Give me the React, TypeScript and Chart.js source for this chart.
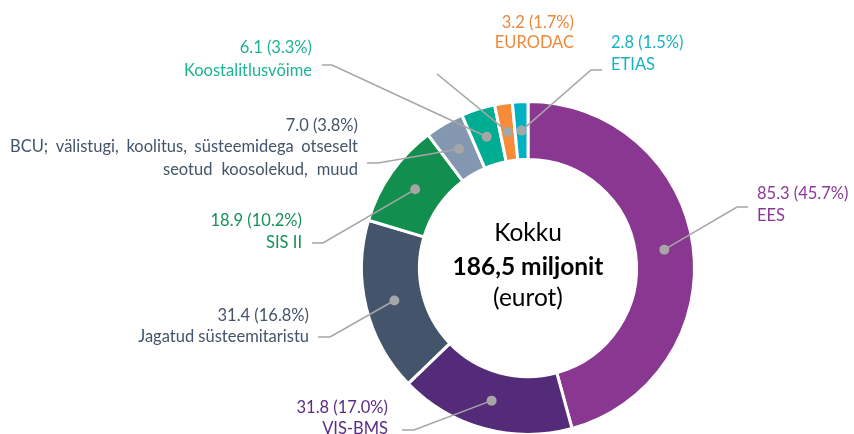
import React, { useEffect, useRef } from "react";
import { Chart, registerables } from "chart.js";

Chart.register(...registerables);

// ---- data ----
const categories = [
  "EES",
  "VIS-BMS",
  "Jagatud süsteemitaristu",
  "SIS II",
  "BCU; välistugi, koolitus, süsteemidega otseselt|seotud koosolekud, muud",
  "Koostalitlusvõime",
  "EURODAC",
  "ETIAS",
];
const values = [85.3, 31.8, 31.4, 18.9, 7.0, 6.1, 3.2, 2.8];
const percents = [45.7, 17.0, 16.8, 10.2, 3.8, 3.3, 1.7, 1.5];
const totalLines = ["Kokku", "186,5 miljonit", "(eurot)"];

// ---- styles ----
const segColors = ["#893790", "#532B78", "#44546A", "#128E4F", "#8497B0", "#00AD92", "#F68B3A", "#00B1C2"];
const labelColors = ["#8B3A96", "#5B2C84", "#44546A", "#15915A", "#44546A", "#1DB495", "#F0883A", "#17B2C4"];
const FONT = "Lato, 'Open Sans', sans-serif";

// label layout, offsets from doughnut centre: elbow, end of horizontal, text anchor
type LL = { ex: number; ey: number; hx: number | null; tx: number; align: CanvasTextAlign; ty: number[]; justify?: number[] };
const labelLayout: LL[] = [
  { ex: 209, ey: -61, hx: 220, tx: 229, align: "left", ty: [-74, -52] },
  { ex: -114, ey: 162, hx: -126, tx: -140, align: "right", ty: [140, 161] },
  { ex: -198, ey: 69, hx: -210, tx: -219, align: "right", ty: [48, 69] },
  { ex: -205, ey: -25, hx: -216, tx: -226, align: "right", ty: [-47, -25] },
  { ex: -150, ey: -105, hx: -161, tx: -170, align: "right", ty: [-142, -121, -98], justify: [0, 348, 195] },
  { ex: -196, ey: -203, hx: -206, tx: -216, align: "right", ty: [-220, -197] },
  { ex: -91, ey: -194, hx: null, tx: 46, align: "right", ty: [-245, -225] },
  { ex: 63, ey: -198, hx: 74, tx: 83, align: "left", ty: [-225, -203] },
];

const leaderPlugin = {
  id: "leaderLabels",
  afterDatasetsDraw(chart: any) {
    const ctx: CanvasRenderingContext2D = chart.ctx;
    const meta = chart.getDatasetMeta(0);
    ctx.save();
    meta.data.forEach((arc: any, i: number) => {
      const p = arc.getProps(["x", "y", "startAngle", "endAngle", "innerRadius", "outerRadius"], true);
      const mid = (p.startAngle + p.endAngle) / 2;
      const r = (p.innerRadius + p.outerRadius) / 2;
      const dx = p.x + Math.cos(mid) * r;
      const dy = p.y + Math.sin(mid) * r;
      const L = labelLayout[i];
      const cx = p.x, cy = p.y;
      ctx.strokeStyle = "#A6A6A6";
      ctx.lineWidth = 1.6;
      ctx.beginPath();
      ctx.moveTo(dx, dy);
      ctx.lineTo(cx + L.ex, cy + L.ey);
      if (L.hx !== null) ctx.lineTo(cx + L.hx, cy + L.ey);
      ctx.stroke();
      ctx.fillStyle = "#A6A6A6";
      ctx.beginPath();
      ctx.arc(dx, dy, 5, 0, Math.PI * 2);
      ctx.fill();

      // text
      const lines = [values[i].toFixed(1) + " (" + percents[i].toFixed(1) + "%)", ...categories[i].split("|")];
      ctx.fillStyle = labelColors[i];
      ctx.font = `16.5px ${FONT}`;
      ctx.textBaseline = "middle";
      lines.forEach((t, k) => {
        const x = cx + L.tx;
        const y = cy + L.ty[k];
        const jw = L.justify ? L.justify[k] : 0;
        if (jw) {
          const words = t.split(" ");
          const wsum = words.reduce((s, w) => s + ctx.measureText(w).width, 0);
          const gap = Math.max((jw - wsum) / (words.length - 1), ctx.measureText(" ").width);
          const total = wsum + gap * (words.length - 1);
          let xx = x - total;
          ctx.textAlign = "left";
          words.forEach((w) => {
            ctx.fillText(w, xx, y);
            xx += ctx.measureText(w).width + gap;
          });
        } else {
          ctx.textAlign = L.align;
          ctx.fillText(t, x, y);
        }
      });
    });

    // centre text
    const a = meta.data[0].getProps(["x", "y"], true);
    ctx.fillStyle = "#000000";
    ctx.textAlign = "center";
    ctx.textBaseline = "middle";
    ctx.font = `24.5px ${FONT}`;
    ctx.fillText(totalLines[0], a.x, a.y - 35);
    ctx.font = `bold 24.5px ${FONT}`;
    ctx.fillText(totalLines[1], a.x, a.y - 1);
    ctx.font = `24.5px ${FONT}`;
    ctx.fillText(totalLines[2], a.x, a.y + 30);
    ctx.restore();
  },
};

export default function App() {
  const ref = useRef<HTMLCanvasElement | null>(null);
  useEffect(() => {
    document.body.style.margin = "0";
    const chart = new Chart(ref.current as HTMLCanvasElement, {
      type: "doughnut",
      data: {
        labels: categories.map((c) => c.replace("|", " ")),
        datasets: [
          {
            data: values,
            backgroundColor: segColors,
            borderColor: "#FFFFFF",
            borderWidth: 3,
          },
        ],
      },
      options: {
        animation: false,
        responsive: false,
        cutout: "65.2%",
        layout: { padding: { left: 360, right: 158, top: 100, bottom: 4 } },
        plugins: { legend: { display: false }, tooltip: { enabled: false } },
      },
      plugins: [leaderPlugin],
    });
    return () => chart.destroy();
  }, []);
  return (
    <div style={{ width: 854, height: 434, overflow: "hidden", background: "#fff" }}>
      <canvas ref={ref} width={854} height={440} style={{ display: "block" }} />
    </div>
  );
}
